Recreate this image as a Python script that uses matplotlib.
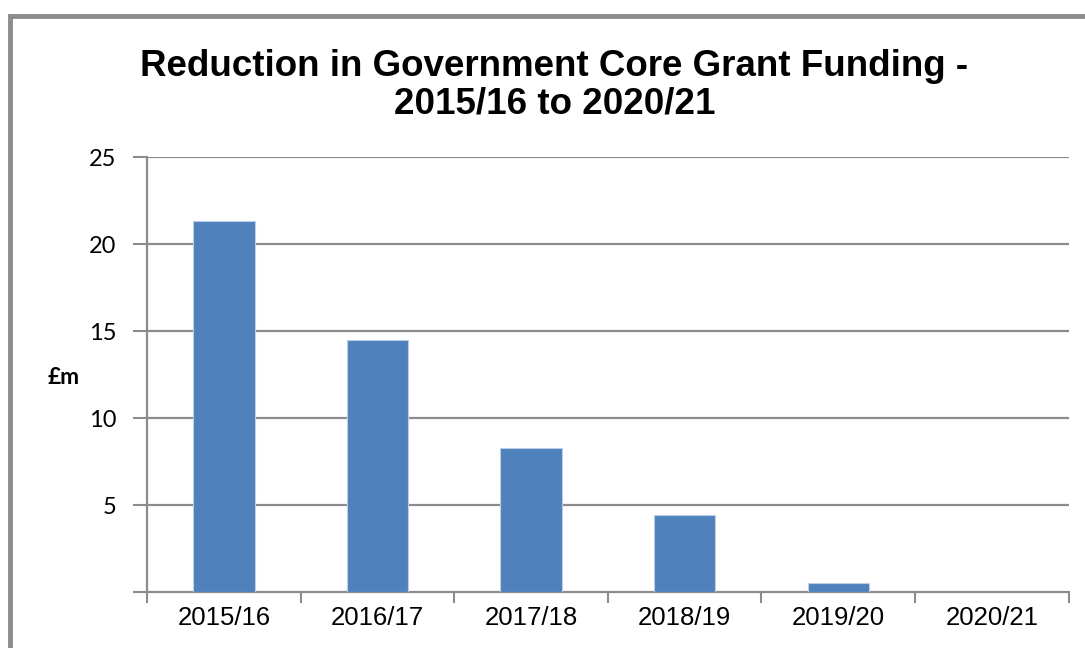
import numpy as np
import matplotlib.pyplot as plt
from matplotlib.patches import Rectangle

# data
years = ['2015/16', '2016/17', '2017/18', '2018/19', '2019/20', '2020/21']
reduction = [21.3, 14.5, 8.3, 4.4, 0.5, 0.0]
y_ticks = [5, 10, 15, 20, 25]

fig = plt.figure(figsize=(10.85, 6.48), dpi=100)
ax = fig.add_axes([0.1355, 0.0864, 0.8495, 0.6713])

# grey frame round the chart (runs off the right and bottom edges)
fig.patches.append(Rectangle((0.0092, -0.05), 1.2, 1.025, transform=fig.transFigure,
                             fill=False, edgecolor='#8c8c8c', linewidth=3.5))

x = np.arange(len(years))
ax.bar(x, reduction, width=0.4, color='#4f81bd', edgecolor='#b9cde5', linewidth=0.8, zorder=3)

ax.set_xlim(-0.5, 5.5)
ax.set_ylim(0, 25)

# gridlines
for v in y_ticks:
    ax.axhline(v, color='#8c8c8c', linewidth=1.6, zorder=1)

ax.set_yticks([0] + y_ticks)
ax.set_yticklabels([''] + [str(v) for v in y_ticks], family='Lato', fontsize=17)
ax.tick_params(axis='y', length=10, width=1.5, color='#8c8c8c', pad=12)

ax.set_xticks(np.arange(-0.5, 6.0, 1.0))
ax.set_xticklabels([])
ax.tick_params(axis='x', length=8, width=1.5, color='#8c8c8c')
ax.set_xticks(x, minor=True)
ax.set_xticklabels(years, minor=True, family='Liberation Sans', fontsize=18.5)
ax.tick_params(axis='x', which='minor', length=0, pad=10)

for side in ['top', 'right']:
    ax.spines[side].set_visible(False)
for side in ['left', 'bottom']:
    ax.spines[side].set_color('#8c8c8c')
    ax.spines[side].set_linewidth(1.6)

fig.text(0.0590, 0.417, '£m', family='Lato', fontsize=16.5, fontweight='bold',
         ha='center', va='center')

fig.text(0.511, 0.868, 'Reduction in Government Core Grant Funding -\n2015/16 to 2020/21',
         family='Liberation Sans', fontsize=26.5, fontweight='bold',
         ha='center', va='center', linespacing=1.1)

fig.savefig('out.png', dpi=100)
